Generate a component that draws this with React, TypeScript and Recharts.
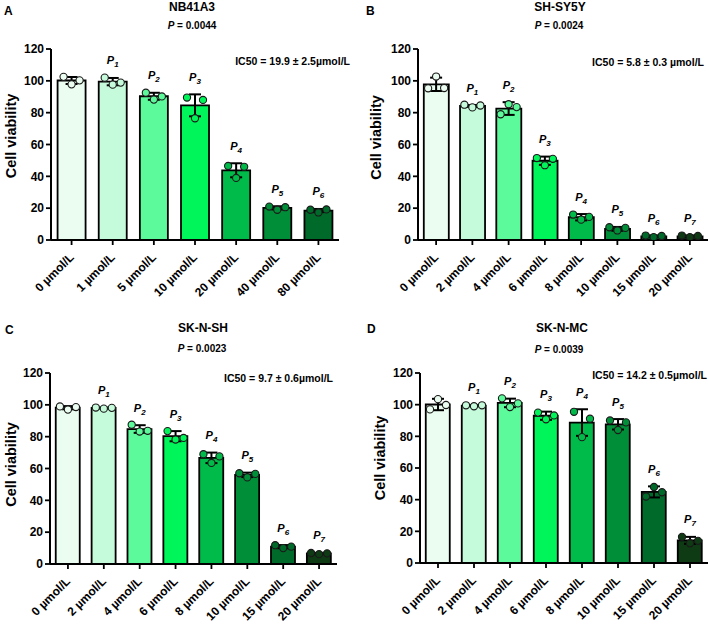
import React from 'react';
import { ComposedChart, Bar, Cell, XAxis, YAxis, Scatter, ErrorBar } from 'recharts';

const FONT = 'Arial, "Liberation Sans", Helvetica, sans-serif';

// ---------- data ----------
const yTicks = [0, 20, 40, 60, 80, 100, 120];

const coloursA = ['#ebfdf1', '#c5fadb', '#5cfa9a', '#00f55a', '#00bb4a', '#008f38', '#006a2a'];
const colours8 = ['#ebfdf1', '#c5fadb', '#5cfa9a', '#00f55a', '#00bb4a', '#008f38', '#006a2a', '#0e3a14'];

// Panel A: NB41A3
const catsA = ['0 µmol/L', '1 µmol/L', '5 µmol/L', '10 µmol/L', '20 µmol/L', '40 µmol/L', '80 µmol/L'];
const meanA = [100.2, 99.5, 90.3, 84.6, 43.8, 20.2, 18.5];
const sdA = [2.2, 2.3, 2.2, 6.9, 4.4, 1.0, 1.0];
const leftA = [102.5, 102.0, 92.5, 89.5, 46.5, 21.0, 19.0];
const midA = [97.8, 97.6, 88.2, 76.5, 39.0, 19.0, 17.3];
const rightA = [100.3, 98.9, 90.2, 88.0, 46.0, 20.6, 19.2];

// Panel B: SH-SY5Y
const catsB = ['0 µmol/L', '2 µmol/L', '4 µmol/L', '6 µmol/L', '8 µmol/L', '10 µmol/L', '15 µmol/L', '20 µmol/L'];
const meanB = [97.8, 84.2, 82.6, 49.8, 14.3, 7.0, 2.3, 2.3];
const sdB = [4.2, 0.6, 4.0, 2.6, 2.0, 1.2, 0.6, 0.6];
const leftB = [95.3, 85.0, 79.0, 51.5, 16.0, 8.0, 2.8, 2.8];
const midB = [102.7, 83.3, 85.3, 47.0, 12.8, 6.0, 1.8, 1.8];
const rightB = [95.5, 84.5, 83.5, 51.0, 14.5, 7.6, 2.5, 2.5];

// Panel C: SK-N-SH
const catsC = ['0 µmol/L', '2 µmol/L', '4 µmol/L', '6 µmol/L', '8 µmol/L', '10 µmol/L', '15 µmol/L', '20 µmol/L'];
const meanC = [98.2, 98.0, 84.8, 80.3, 66.7, 56.0, 10.9, 6.6];
const sdC = [1.0, 0.3, 2.4, 3.2, 3.3, 1.4, 1.0, 0.4];
const leftC = [99.0, 98.3, 87.5, 83.5, 69.0, 57.0, 11.8, 6.9];
const midC = [97.0, 97.6, 83.2, 78.2, 63.5, 54.4, 10.0, 6.2];
const rightC = [98.6, 98.1, 83.7, 79.2, 67.6, 56.6, 10.9, 6.7];

// Panel D: SK-N-MC
const catsD = ['0 µmol/L', '2 µmol/L', '4 µmol/L', '6 µmol/L', '8 µmol/L', '10 µmol/L', '15 µmol/L', '20 µmol/L'];
const meanD = [100.1, 99.4, 101.1, 93.0, 88.7, 87.6, 44.9, 14.3];
const sdD = [3.6, 0.4, 2.7, 2.6, 8.4, 3.3, 3.5, 2.2];
const leftD = [97.0, 99.6, 104.0, 95.0, 95.5, 90.0, 42.0, 16.5];
const midD = [103.5, 99.0, 98.5, 90.8, 79.5, 84.0, 48.0, 12.5];
const rightD = [99.8, 99.6, 100.8, 93.2, 91.1, 88.8, 44.7, 14.0];

// ---------- helpers ----------
type Row = { name: string; mean: number; sd: number; top: number; l: number; m: number; r: number; fill: string; tag: string };

function buildRows(cats: string[], mean: number[], sd: number[], l: number[], m: number[], r: number[], colours: string[]): Row[] {
  return cats.map((c, i) => ({
    name: c,
    mean: mean[i],
    sd: sd[i],
    top: mean[i] + sd[i],
    l: l[i],
    m: m[i],
    r: r[i],
    fill: colours[i],
    tag: i > 0 ? String(i) : '',
  }));
}

const dotShape = (off: number) => (props: any) => {
  const { cx, cy, payload } = props;
  if (cx == null || cy == null) return <g />;
  return <circle cx={cx + off} cy={cy} r={3.6} fill={payload.fill} stroke="#1a1a1a" strokeWidth={1.1} />;
};

const emptyShape = () => <g />;

const tagShape = (props: any) => {
  const { cx, cy, payload } = props;
  if (!payload.tag || cx == null) return <g />;
  return (
    <text x={cx} y={cy - 13.5} textAnchor="middle" fontFamily={FONT} fontStyle="italic" fontWeight="bold" fontSize={11} fill="#000">
      P
      <tspan fontSize={8} dy={3}>{payload.tag}</tspan>
    </text>
  );
};

type PanelProps = {
  rows: Row[];
  left: number;
  top: number;
  width: number;
  height: number;
  yw: number;
  mt: number;
  mr: number;
  xh: number;
};

const Panel = ({ rows, left, top, width, height, yw, mt, mr, xh }: PanelProps) => (
  <div style={{ position: 'absolute', left, top, width, height }}>
    <ComposedChart
      width={width}
      height={height}
      data={rows}
      margin={{ top: mt, right: mr, bottom: 0, left: 0 }}
      barCategoryGap="16%"
    >
      <XAxis
        dataKey="name"
        interval={0}
        angle={-45}
        textAnchor="end"
        tick={{ fontSize: 12, fontWeight: 'bold', fill: '#000', fontFamily: FONT, textAnchor: 'end', dx: -3, dy: 5 } as any}
        tickSize={5}
        height={xh}
        axisLine={{ stroke: '#000', strokeWidth: 2 }}
        tickLine={{ stroke: '#000', strokeWidth: 1.8 }}
      />
      <YAxis
        domain={[0, 120]}
        ticks={yTicks}
        width={yw}
        tickSize={5}
        allowDataOverflow
        tick={{ fontSize: 12, fontWeight: 'bold', fill: '#000', fontFamily: FONT }}
        axisLine={{ stroke: '#000', strokeWidth: 2 }}
        tickLine={{ stroke: '#000', strokeWidth: 1.8 }}
      />
      <Bar dataKey="mean" stroke="#000" strokeWidth={1.8} isAnimationActive={false}>
        {rows.map((r, i) => (
          <Cell key={i} fill={r.fill} stroke="#000" strokeWidth={1.8} />
        ))}
      </Bar>
      <Scatter dataKey="l" shape={dotShape(-8)} isAnimationActive={false} />
      <Scatter dataKey="m" shape={dotShape(0)} isAnimationActive={false} />
      <Scatter dataKey="r" shape={dotShape(8)} isAnimationActive={false} />
      <Scatter dataKey="mean" shape={emptyShape} isAnimationActive={false}>
        <ErrorBar dataKey="sd" direction="y" width={6} stroke="#000" strokeWidth={2} isAnimationActive={false} />
      </Scatter>
      <Scatter dataKey="top" shape={tagShape} isAnimationActive={false} />
    </ComposedChart>
  </div>
);

const rowsA = buildRows(catsA, meanA, sdA, leftA, midA, rightA, coloursA);
const rowsB = buildRows(catsB, meanB, sdB, leftB, midB, rightB, colours8);
const rowsC = buildRows(catsC, meanC, sdC, leftC, midC, rightC, colours8);
const rowsD = buildRows(catsD, meanD, sdD, leftD, midD, rightD, colours8);

const PVal = ({ x, y, v }: { x: number; y: number; v: string }) => (
  <text x={x} y={y} textAnchor="middle" fontFamily={FONT} fontWeight="bold" fontSize={10} fill="#000">
    <tspan fontStyle="italic">P</tspan>
    {` = ${v}`}
  </text>
);

const Txt = ({ x, y, s, size, anchor = 'start' }: { x: number; y: number; s: string; size: number; anchor?: string }) => (
  <text x={x} y={y} textAnchor={anchor as any} fontFamily={FONT} fontWeight="bold" fontSize={size} fill="#000">
    {s}
  </text>
);

const YLab = ({ x, y }: { x: number; y: number }) => (
  <text
    x={x}
    y={y}
    transform={`rotate(-90 ${x} ${y})`}
    textAnchor="middle"
    fontFamily={FONT}
    fontWeight="bold"
    fontSize={14.5}
    fill="#000"
  >
    Cell viability
  </text>
);

export default function App() {
  return (
    <div style={{ position: 'absolute', left: 0, top: 0, width: 709, height: 624, background: '#fff', overflow: 'hidden' }}>
      <Panel rows={rowsA} left={0} top={0} width={354} height={312} yw={51} mt={49} mr={15} xh={72} />
      <Panel rows={rowsB} left={354} top={0} width={355} height={312} yw={64} mt={49} mr={1} xh={72} />
      <Panel rows={rowsC} left={0} top={312} width={354} height={312} yw={50} mt={61} mr={17} xh={60} />
      <Panel rows={rowsD} left={354} top={312} width={355} height={312} yw={66} mt={61} mr={1} xh={61} />
      <svg width={709} height={624} style={{ position: 'absolute', left: 0, top: 0, pointerEvents: 'none' }}>
        {/* Panel A */}
        <Txt x={4} y={15} s="A" size={12} />
        <Txt x={192} y={10.5} s="NB41A3" size={12} anchor="middle" />
        <PVal x={192} y={29.3} v="0.0044" />
        <Txt x={350} y={65} s="IC50 = 19.9 ±  2.5µmol/L" size={10.5} anchor="end" />
        <YLab x={15.5} y={136} />
        {/* Panel B */}
        <Txt x={366} y={15} s="B" size={12} />
        <Txt x={560} y={10.5} s="SH-SY5Y" size={12} anchor="middle" />
        <PVal x={559} y={29.3} v="0.0024" />
        <Txt x={704} y={66} s="IC50 = 5.8 ± 0.3 µmol/L" size={10.5} anchor="end" />
        <YLab x={381} y={137.5} />
        {/* Panel C */}
        <Txt x={5} y={334} s="C" size={12} />
        <Txt x={203} y={332} s="SK-N-SH" size={12} anchor="middle" />
        <PVal x={202} y={352} v="0.0023" />
        <Txt x={333} y={382} s="IC50 = 9.7 ± 0.6µmol/L" size={10.5} anchor="end" />
        <YLab x={15.5} y={464.5} />
        {/* Panel D */}
        <Txt x={367} y={333} s="D" size={12} />
        <Txt x={562} y={332} s="SK-N-MC" size={12} anchor="middle" />
        <PVal x={559} y={352.7} v="0.0039" />
        <Txt x={707} y={378.7} s="IC50 = 14.2 ± 0.5µmol/L" size={10.5} anchor="end" />
        <YLab x={384.5} y={458} />
      </svg>
    </div>
  );
}
